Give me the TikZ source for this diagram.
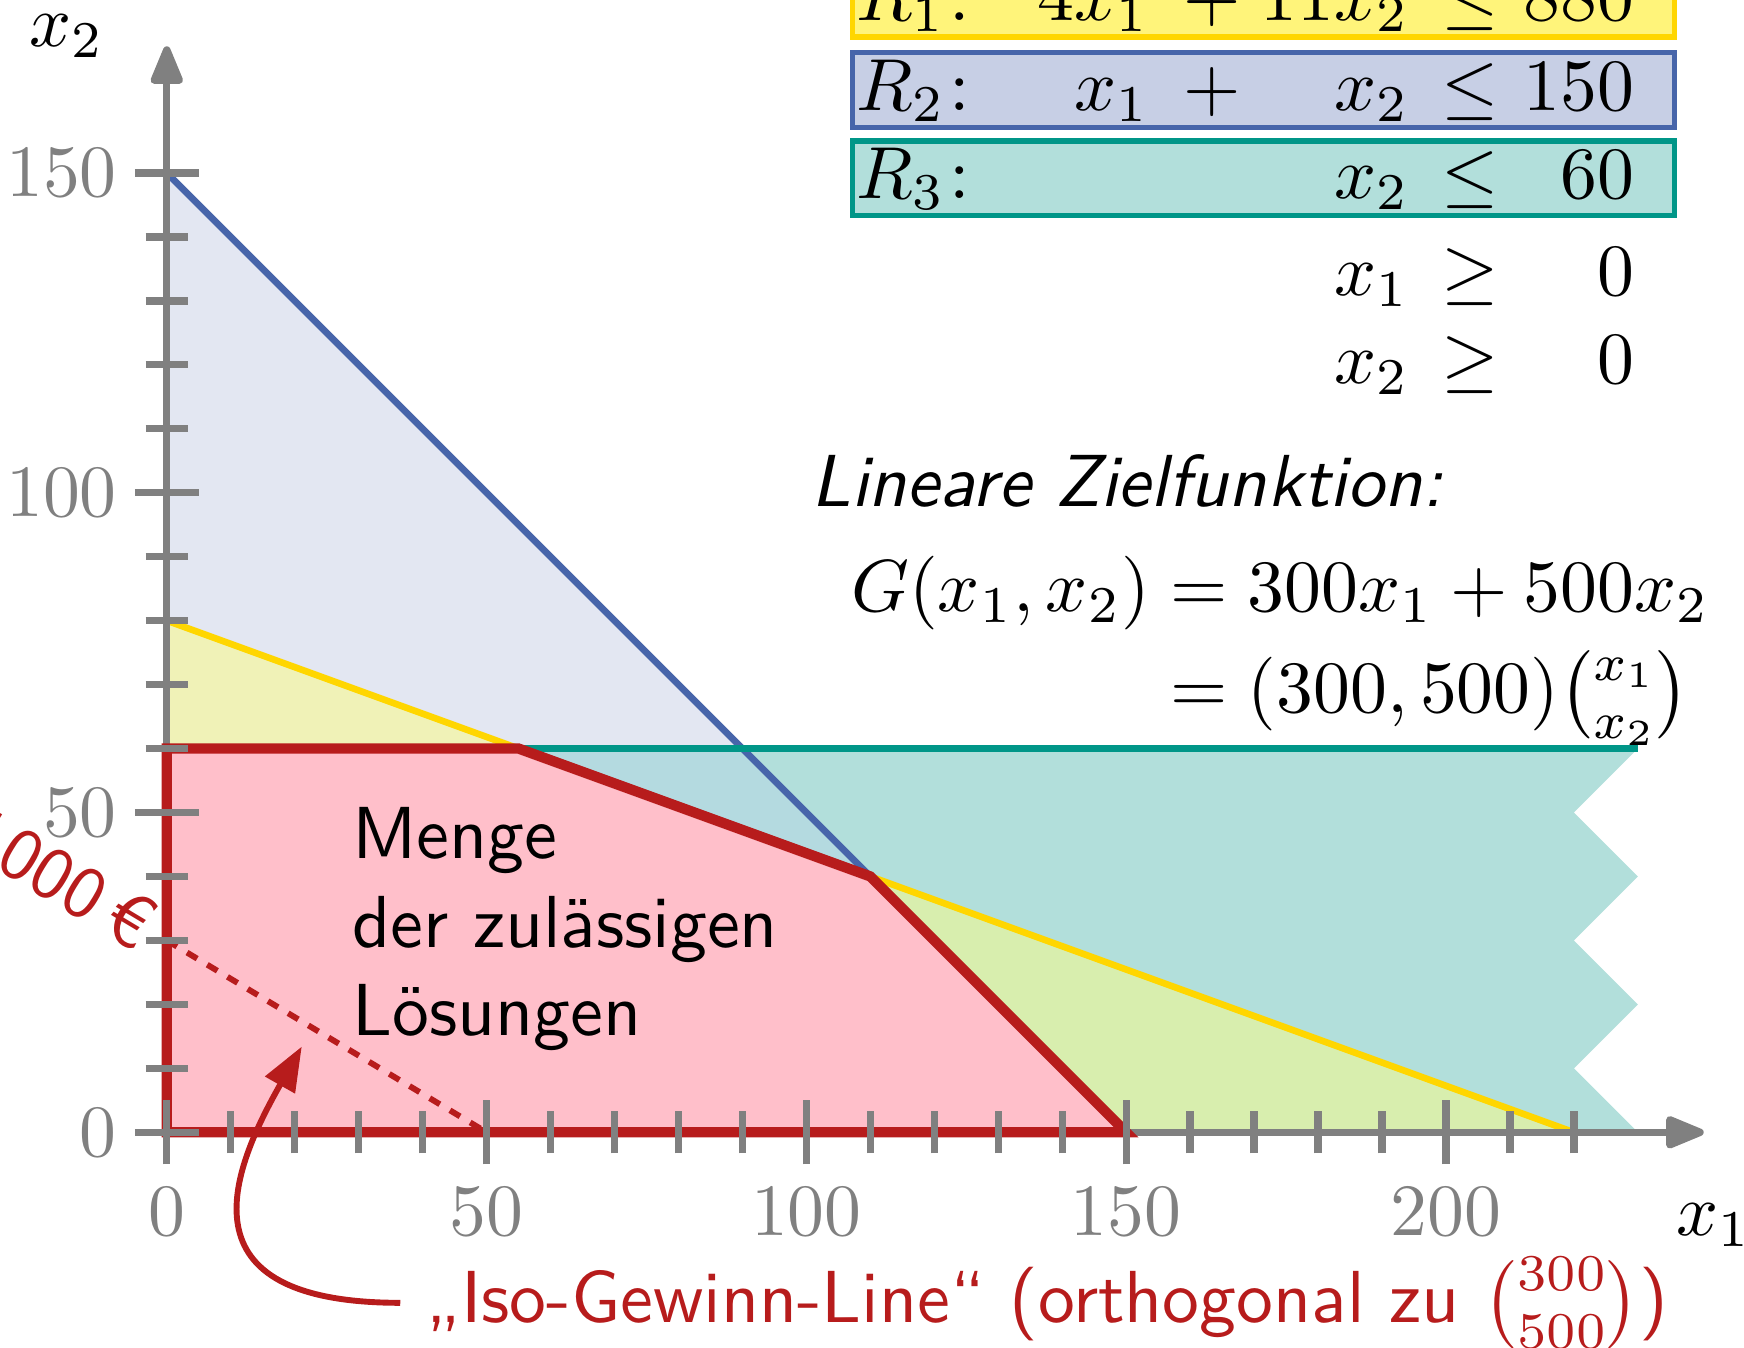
\documentclass[tikz,border=0pt]{standalone}
\usepackage{amsmath}
\usetikzlibrary{arrows.meta, calc}

\definecolor{achsgrau}{HTML}{808080}
\definecolor{reinslinie}{HTML}{FFD600}
\definecolor{rzweilinie}{HTML}{4765AA}
\definecolor{rdreilinie}{HTML}{009688}
\definecolor{reinsbox}{HTML}{FFF47A}
\definecolor{rzweibox}{HTML}{C7CFE5}
\definecolor{rdreibox}{HTML}{B2DFDB}
\definecolor{loesrot}{HTML}{B71C1C}
\definecolor{loesfill}{HTML}{FFBFCA}
\definecolor{blaufill}{HTML}{E3E7F2}
\definecolor{gelbblaufill}{HTML}{F0F2B7}
\definecolor{tuerkisblaufill}{HTML}{B4DAE0}
\definecolor{tuerkisfill}{HTML}{B2DFDB}
\definecolor{gruenfill}{HTML}{D8EEAE}

% one row of the constraint system, columns of fixed width
\newcommand{\crow}[6]{\makebox[110.5pt][l]{%
  \makebox[39.8pt][l]{$#1$\hfill$#2$}%
  \makebox[17pt]{$#3$}%
  \makebox[18.2pt][r]{$#4$}%
  \makebox[16.6pt]{$#5$}%
  \makebox[13.9pt][r]{$#6$}}}
\newcommand{\rname}[1]{R_{#1}\mkern1mu{:}}

\begin{document}
\begin{tikzpicture}[x=0.305mm, y=0.305mm,
  achse/.style={achsgrau, line width=1pt, -{Triangle[length=6pt, width=4.6pt, round]}},
  strich/.style={achsgrau, line width=1pt},
  skala/.style={achsgrau, inner sep=0pt},
  rlinie/.style={line width=0.9pt},
  zeile/.style={anchor=base west, inner xsep=0.5pt, inner ysep=0pt,
    text height=7.8pt, text depth=2.3pt, line width=0.7pt}]

\useasboundingbox (-26.08,-33.57) rectangle (246.6,177.04);

% Flaechen der Restriktionen
\fill[blaufill] (0,150) -- (90,60) -- (55,60) -- (0,80) -- cycle;
\fill[gelbblaufill] (0,80) -- (55,60) -- (0,60) -- cycle;
\fill[tuerkisblaufill] (55,60) -- (90,60) -- (110,40) -- cycle;
\fill[tuerkisfill] (90,60) -- (230,60) -- (220,50) -- (230,40) -- (220,30)
  -- (230,20) -- (220,10) -- (230,0) -- (220,0) -- (110,40) -- cycle;
\fill[gruenfill] (110,40) -- (220,0) -- (150,0) -- cycle;

% Restriktionsgeraden
\draw[rlinie, rzweilinie] (0,150) -- (110,40);
\draw[rlinie, reinslinie] (0,80) -- (220,0);
\draw[rlinie, rdreilinie] (0,60) -- (230,60);

% Achsen
\draw[achse] (0,0) -- (240.3,0);
\draw[achse] (0,0) -- (0,169.8);
\node[anchor=base west, inner sep=0pt] (xzwei) at (-21.7,169.7) {$x_2$};
\node[anchor=base west, inner sep=0pt] (xeins) at (235.8,-16.1) {$x_1$};

% zulaessige Loesungen
\draw[fill=loesfill, draw=loesrot, line width=1.4pt, line join=miter]
  (0,0) -- (150,0) -- (110,40) -- (55,60) -- (0,60) -- cycle;
\node[anchor=north west, inner sep=0pt, align=left, font=\sffamily] (menge)
  at (28.8,51) {Menge\\der zulässigen\\Lösungen};

% Iso-Gewinn-Linie
\draw[loesrot, line width=0.8pt, dash pattern=on 1.6pt off 1.6pt] (0,30) -- (50,0);
\node[anchor=east, rotate=-30.96, inner sep=2.5pt, text=loesrot, font=\sffamily]
  (euro) at (0,30) {15\,000\,€};

% Skalenstriche
\foreach \x in {10,20,...,220}
  \draw[strich] (\x,-3.3) -- (\x,3.3);
\foreach \x in {0,50,...,200} {
  \draw[strich] (\x,-5) -- (\x,5);
  \node[skala, anchor=base] (xl\x) at (\x,-16.1) {$\x$};
}
\foreach \y in {10,20,...,140}
  \draw[strich] (-3.3,\y) -- (3.3,\y);
\foreach \y in {0,50,100,150} {
  \draw[strich] (-5,\y) -- (5,\y);
  \node[skala, anchor=east] (yl\y) at (-7.6,\y) {$\y$};
}

% Restriktionen
\node[zeile, draw=reinslinie, fill=reinsbox] (reins) at (106.85,173.9)
  {\crow{\rname{1}}{4x_1}{+}{11x_2}{\leq}{880}};
\node[zeile, draw=rzweilinie, fill=rzweibox] (rzwei) at (106.85,159.8)
  {\crow{\rname{2}}{x_1}{+}{x_2}{\leq}{150}};
\node[zeile, draw=rdreilinie, fill=rdreibox] (rdrei) at (106.85,146.0)
  {\crow{\rname{3}}{}{}{x_2}{\leq}{60}};
\node[zeile] (nnaeins) at (106.85,130.9) {\crow{}{}{}{x_1}{\geq}{0}};
\node[zeile] (nnazwei) at (106.85,117.1) {\crow{}{}{}{x_2}{\geq}{0}};

% Zielfunktion
\node[anchor=base west, inner sep=0pt, font=\sffamily\itshape] (zftitel)
  at (100.5,97.9) {Lineare Zielfunktion:};
\node[anchor=north west, inner sep=0pt] (zf) at (106.8,91.4)
  {$\begin{aligned}G(x_1,x_2) &= 300x_1+500x_2\\[-2.3pt]
    &= (300,500)\tbinom{x_1}{x_2}\end{aligned}$};

% Beschriftung der Iso-Gewinn-Linie
\node[anchor=base west, text=loesrot, font=\sffamily] (iso) at (36.5,-29.8)
  {„Iso-Gewinn-Line“ (orthogonal zu $\binom{300}{500}$)};
\coordinate (isospitze) at (21.1,13.4);
\draw[loesrot, line width=0.8pt, -{Triangle[length=6pt, width=4.5pt]}]
  (iso.west) .. controls +(-35,0) and +(-11,-19.4) .. (isospitze);

\end{tikzpicture}
\end{document}
